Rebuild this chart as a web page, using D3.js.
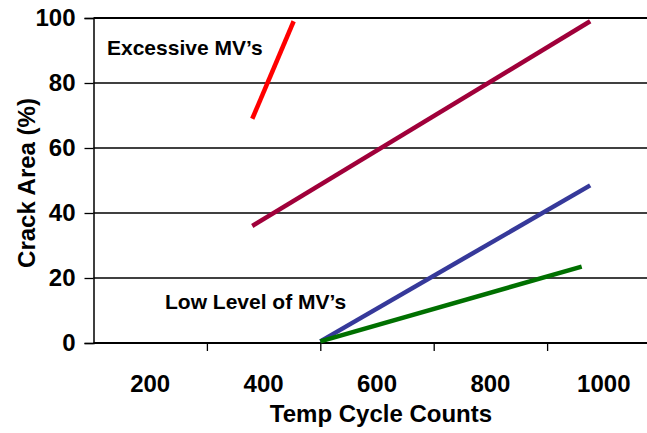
<!DOCTYPE html>
<html><head><meta charset="utf-8">
<script src="https://cdn.jsdelivr.net/npm/d3@7"></script>
<style>
html,body{margin:0;padding:0;background:#fff;}
svg text{font-family:"Liberation Sans",Arial,sans-serif;font-weight:bold;fill:#000;}
</style></head>
<body><svg id="c" width="647" height="433"></svg>
<script>
const xTickLabels = [200, 400, 600, 800, 1000];
const xTickMarks = [300, 500, 700, 900];
const yTicks = [0, 20, 40, 60, 80, 100];
const seriesNames = ["Excessive", "Upper", "Middle", "Low"];
const seriesColors = ["#ff0000", "#a0003a", "#36399a", "#007000"];
const excessive = [{x: 380, y: 69}, {x: 453, y: 99}];
const upper = [{x: 380, y: 36}, {x: 976, y: 99}];
const middle = [{x: 500, y: 0.5}, {x: 976, y: 48.5}];
const low = [{x: 500, y: 0.5}, {x: 961, y: 23.5}];
const seriesData = [excessive, upper, middle, low];
const annotations = [
  {text: "Excessive MV\u2019s", x: 107, y: 55},
  {text: "Low Level of MV\u2019s", x: 165, y: 309}
];

const svg = d3.select("#c");
const x = d3.scaleLinear().domain([100, 1100]).range([93.5, 660.5]);
const y = d3.scaleLinear().domain([0, 100]).range([343, 18]);

// gridlines
svg.append("g").selectAll("line").data(yTicks.filter(d => d > 0)).join("line")
  .attr("x1", x(100)).attr("x2", 647)
  .attr("y1", d => y(d)).attr("y2", d => y(d))
  .attr("stroke", "#000").attr("stroke-width", d => d === 100 ? 2 : 1.3);

// y axis
const yAxis = svg.append("g").attr("transform", `translate(${x(100)},0)`)
  .call(d3.axisLeft(y).tickValues(yTicks).tickSize(9).tickPadding(9));
yAxis.select(".domain").attr("stroke", "#000").attr("stroke-width", 1.5);
yAxis.selectAll(".tick line").attr("stroke", "#000").attr("stroke-width", 1.3);
yAxis.selectAll("text").attr("font-size", 24).style("font-family", "Liberation Sans").style("font-weight", "bold");

// x axis marks
const xAxis = svg.append("g").attr("transform", `translate(0,${y(0)})`)
  .call(d3.axisBottom(x).tickValues(xTickMarks).tickSize(8).tickFormat(""));
xAxis.select(".domain").attr("stroke", "#000").attr("stroke-width", 2).attr("d", `M${x(100)},0H647`);
xAxis.selectAll(".tick line").attr("stroke", "#000").attr("stroke-width", 1.3);
// x tick labels
svg.append("g").selectAll("text").data(xTickLabels).join("text")
  .attr("x", d => x(d)).attr("y", 392).attr("text-anchor", "middle")
  .attr("font-size", 24).text(d => d);

// series
const line = d3.line().x(d => x(d.x)).y(d => y(d.y));
svg.append("g").selectAll("path").data(seriesData).join("path")
  .attr("d", line).attr("fill", "none")
  .attr("stroke", (d, i) => seriesColors[i]).attr("stroke-width", 4.5);

// annotations
svg.append("g").selectAll("text").data(annotations).join("text")
  .attr("x", d => d.x).attr("y", d => d.y).attr("font-size", 21).text(d => d.text);

// titles
svg.append("text").attr("x", 381).attr("y", 422).attr("text-anchor", "middle")
  .attr("font-size", 24).text("Temp Cycle Counts");
svg.append("text").attr("transform", "translate(35,183) rotate(-90)").attr("text-anchor", "middle")
  .attr("font-size", 24).text("Crack Area (%)");
</script></body></html>
